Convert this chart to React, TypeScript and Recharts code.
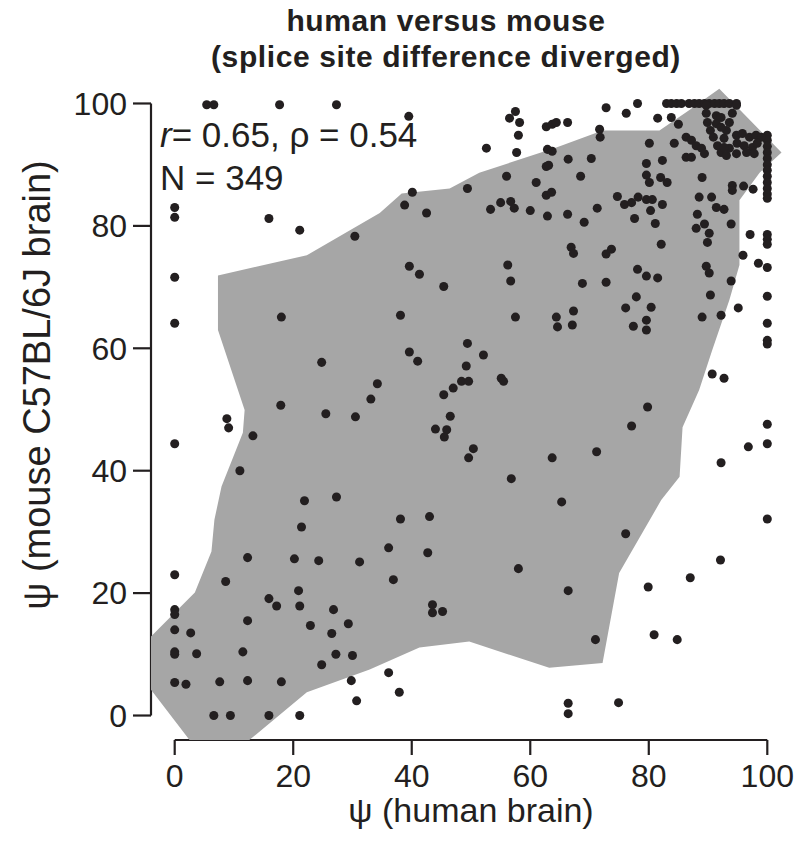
import React from "react";
import { ScatterChart, Scatter, XAxis, YAxis, ReferenceLine } from "recharts";

const FONT = '"Liberation Sans", Arial, Helvetica, sans-serif';
const INK = "#231f20";
const REGION = "#a6a6a6";

const axisTicks = [0, 20, 40, 60, 80, 100];
const titleLines = ["human versus mouse", "(splice site difference diverged)"];
const xLabel = "\u03c8 (human brain)";
const yLabel = "\u03c8 (mouse C57BL/6J brain)";

// outline of the shaded density region, [human psi, mouse psi]
const regionOutline = [
  [2.5, -4], [-4, 4.2], [-4, 12.9], [3.4, 20.1], [6.2, 26.8], [6.7, 32.0], [7.9, 37.4],
  [11.5, 46.2], [11.8, 49.9], [7.3, 63.0], [7.3, 71.9], [22.3, 75.2], [34.6, 82.1],
  [38.3, 85.3], [46.4, 86.1], [51.4, 88.7], [64.4, 92.8], [72.2, 95.6], [81.8, 95.6],
  [86.8, 98.9], [91.9, 102.4], [102.4, 92.0], [98.7, 88.7], [95.3, 84.2], [95.3, 73.6],
  [93.6, 67.9], [90.7, 59.7], [88.5, 53.2], [85.7, 47.1], [85.2, 39.0], [82.1, 35.2],
  [75.0, 23.3], [72.2, 8.6], [63.2, 7.8], [49.7, 12.1], [41.3, 11.1], [32.9, 7.5],
  [22.3, 3.8], [12.6, -4],
];

// exons, [human psi, mouse psi]
const lowHumanExons = [
  [5.4, 99.8], [6.6, 99.8], [17.7, 99.8], [27.3, 99.8], [0, 83.0], [0, 81.4], [15.9, 81.2],
  [21.1, 79.3], [30.4, 78.3], [0, 71.6], [18.0, 65.1], [0, 64.1], [24.8, 57.7], [34.2, 54.2],
  [33.1, 51.7], [17.9, 50.7], [25.5, 49.3], [30.5, 48.8], [8.8, 48.5], [9.1, 47.0],
  [13.2, 45.7], [0, 44.4], [11.0, 40.0], [21.9, 35.1], [27.3, 35.7], [21.4, 30.8],
  [12.3, 25.8], [20.2, 25.6], [24.3, 25.3], [31.2, 25.1], [0, 23.0], [8.6, 21.9],
  [20.9, 20.4], [15.9, 19.1], [17.2, 17.9], [21.1, 17.9], [26.8, 17.3], [0, 17.3],
  [0, 16.5], [12.3, 15.5], [0, 14.0], [2.7, 13.5], [22.9, 14.7], [29.3, 15.0], [26.5, 13.4],
  [0, 10.4], [0, 10.0], [3.7, 10.1], [11.5, 10.4], [27.2, 10.0], [30.0, 9.8], [24.8, 8.3],
  [0, 5.4], [1.9, 5.1], [7.6, 5.5], [12.3, 5.7], [18.0, 5.5], [29.8, 5.7], [30.7, 2.4],
  [6.6, 0], [9.4, 0], [15.9, 0], [21.1, 0],
];

const midHumanExons = [
  [39.5, 97.9], [57.5, 98.7], [56.5, 97.6], [58.2, 96.9], [58.0, 94.8], [57.7, 92.0],
  [52.6, 92.7], [62.7, 96.2], [63.7, 96.6], [64.4, 96.9], [66.3, 96.9], [72.8, 99.3],
  [71.7, 95.8], [71.8, 94.5], [62.9, 92.5], [63.7, 92.2], [66.4, 90.9], [70.3, 91.0],
  [62.7, 89.7], [63.1, 89.9], [68.5, 88.1], [56.0, 88.1], [61.0, 87.1], [49.4, 86.1],
  [40.1, 85.5], [38.8, 83.4], [42.5, 82.1], [62.7, 85.0], [63.6, 85.5], [55.0, 83.8],
  [56.7, 84.0], [57.3, 82.9], [53.3, 82.7], [60.0, 82.5], [62.9, 81.6], [66.3, 81.9],
  [71.3, 82.9], [69.1, 80.6], [66.9, 76.5], [67.3, 75.5], [72.8, 75.4], [73.7, 76.2],
  [39.6, 73.4], [41.3, 72.1], [56.2, 73.6], [56.7, 71.0], [45.4, 70.1], [68.8, 70.6],
  [72.8, 70.8], [38.1, 65.4], [57.5, 65.1], [64.4, 65.1], [67.3, 66.1], [64.6, 63.5],
  [67.1, 63.8], [49.4, 60.8], [39.6, 59.4], [41.0, 57.9], [52.1, 58.9], [49.2, 57.1],
  [48.4, 54.6], [49.6, 54.6], [47.0, 53.5], [45.4, 52.4], [55.1, 55.1], [55.5, 54.6],
  [46.5, 48.9], [44.0, 46.8], [45.9, 46.7], [45.5, 45.5], [50.4, 43.6], [49.6, 42.1],
  [56.8, 38.7], [63.7, 42.1], [71.2, 43.1], [38.1, 32.1], [43.0, 32.5], [65.3, 34.9],
  [36.1, 27.4], [42.7, 26.6], [58.0, 24.0], [36.9, 22.2], [66.4, 20.4], [43.5, 18.1],
  [43.5, 16.8], [45.2, 17.0], [71.0, 12.4], [36.1, 7.0], [37.9, 3.8], [66.4, 2.0], [66.4, 0.3],
];

const highHumanExons = [
  [78.1, 100], [83.0, 100], [83.8, 100], [84.7, 100], [85.5, 100], [86.8, 100], [87.7, 100],
  [88.5, 100], [89.4, 100], [90.2, 100], [91.1, 100], [91.9, 100], [92.7, 100], [93.6, 100],
  [94.8, 100], [76.2, 98.4], [81.5, 97.6], [83.8, 97.7], [85.0, 96.6], [80.1, 93.5],
  [84.3, 93.5], [86.3, 94.5], [87.2, 94.0], [88.0, 93.1], [88.9, 92.7], [89.4, 91.8],
  [86.3, 91.2], [87.2, 91.2], [79.6, 90.2], [82.3, 90.7], [79.6, 88.3], [80.1, 87.1],
  [82.0, 87.9], [83.1, 87.1], [89.0, 87.9], [94.1, 86.6], [94.1, 85.8], [96.0, 86.5],
  [97.6, 86.0], [74.7, 84.8], [75.9, 83.5], [77.1, 83.8], [78.2, 84.7], [79.6, 84.3],
  [80.6, 84.3], [80.3, 82.5], [82.3, 83.5], [77.6, 81.2], [81.1, 80.4], [88.5, 84.7],
  [90.6, 84.7], [91.4, 83.0], [92.7, 82.7], [88.2, 81.9], [89.4, 80.3], [88.0, 79.6],
  [90.2, 78.8], [89.9, 77.3], [93.9, 80.3], [97.1, 78.6], [82.1, 77.0], [95.9, 75.2],
  [98.5, 73.9], [78.1, 72.9], [79.6, 71.8], [81.5, 71.5], [89.7, 73.4], [90.2, 72.3],
  [93.9, 71.0], [77.9, 68.4], [90.4, 68.7], [76.1, 66.6], [80.4, 66.7], [95.1, 66.6],
  [89.0, 65.1], [92.2, 65.4], [79.6, 64.6], [79.6, 63.0], [77.4, 63.6], [90.7, 55.8],
  [92.7, 55.1], [79.8, 50.4], [77.1, 47.3], [96.8, 43.9], [92.2, 41.3], [76.1, 29.7],
  [92.1, 25.4], [87.0, 22.5], [79.9, 21.0], [80.9, 13.2], [84.8, 12.4], [74.9, 2.1],
];

const fullHumanExons = [
  [100, 94.8], [100, 94.0], [100, 93.0], [100, 92.0], [100, 91.0], [100, 90.0], [100, 89.1],
  [100, 88.1], [100, 87.1], [100, 86.1], [100, 85.2], [100, 84.5], [100, 78.6], [100, 77.8],
  [100, 77.0], [100, 73.2], [100, 68.5], [100, 64.1], [100, 61.3], [100, 60.7], [100, 47.6],
  [100, 44.4], [100, 32.1],
];

const topCornerExons = [
  [89.7, 99.7], [89.7, 98.4], [89.9, 96.9], [90.4, 95.6], [90.9, 94.5], [91.6, 93.1],
  [92.2, 92.0], [93.1, 91.5], [94.8, 99.7], [94.1, 98.4], [93.6, 96.9], [93.1, 95.6],
  [92.7, 94.3], [91.4, 98.0], [92.2, 97.7], [91.4, 96.7], [92.2, 96.1], [94.8, 94.8],
  [95.8, 95.1], [97.0, 94.5], [98.1, 94.8], [99.0, 94.5], [94.9, 93.5], [96.1, 93.1],
  [97.5, 92.8], [98.3, 93.5], [93.6, 92.7], [94.8, 91.8], [96.5, 92.0], [97.8, 91.8],
  [92.7, 92.8],
];

const toPoints = (pairs: number[][]) => pairs.map(([x, y]) => ({ x, y }));

const exonPoints = toPoints([
  ...lowHumanExons,
  ...midHumanExons,
  ...highHumanExons,
  ...fullHumanExons,
  ...topCornerExons,
]);

const regionShape = (props: any) => {
  const pts = props.points || [];
  const d = pts.map((p: any, i: number) => `${i ? "L" : "M"}${p.x},${p.y}`).join(" ") + " Z";
  return <path d={d} fill={REGION} stroke="none" />;
};

const tickStyle = { fontSize: 32, fill: INK, fontFamily: FONT };

export default function App() {
  return (
    <div style={{ position: "absolute", left: 0, top: 0, width: 805, height: 860, background: "#fff" }}>
      <ScatterChart width={805} height={860} margin={{ top: 79, right: 14, bottom: 0, left: 0 }}>
        <XAxis
          type="number"
          dataKey="x"
          domain={[-4, 104]}
          ticks={axisTicks}
          interval={0}
          axisLine={false}
          tickSize={15}
          tickMargin={9}
          tickLine={{ stroke: INK, strokeWidth: 2.2 }}
          tick={tickStyle}
          height={120}
        />
        <YAxis
          type="number"
          dataKey="y"
          domain={[-4, 104]}
          ticks={axisTicks}
          interval={0}
          axisLine={false}
          tickSize={18}
          tickMargin={6}
          tickLine={{ stroke: INK, strokeWidth: 2.2 }}
          tick={tickStyle}
          width={151}
        />
        <Scatter
          data={toPoints(regionOutline)}
          line={regionShape}
          shape={() => <g />}
          isAnimationActive={false}
        />
        <ReferenceLine
          segment={[{ x: 0, y: -4 }, { x: 100, y: -4 }]}
          stroke={INK}
          strokeWidth={2.2}
        />
        <ReferenceLine
          segment={[{ x: -4, y: 0 }, { x: -4, y: 100 }]}
          stroke={INK}
          strokeWidth={2.2}
        />
        <Scatter data={exonPoints} fill={INK} isAnimationActive={false} />
      </ScatterChart>
      <svg
        width={805}
        height={860}
        style={{ position: "absolute", left: 0, top: 0, pointerEvents: "none" }}
        fontFamily={FONT}
        fill={INK}
      >
        <text x={446} y={31} fontSize={30} fontWeight="bold" letterSpacing={0.6} textAnchor="middle">
          {titleLines[0]}
        </text>
        <text x={446} y={67} fontSize={30} fontWeight="bold" letterSpacing={0.6} textAnchor="middle">
          {titleLines[1]}
        </text>
        <text x={160} y={147} fontSize={35}>
          <tspan fontStyle="italic">r</tspan>= 0.65, {"\u03c1"} = 0.54
        </text>
        <text x={160} y={190} fontSize={35}>
          N = 349
        </text>
        <text x={471} y={822} fontSize={34} textAnchor="middle">
          {xLabel}
        </text>
        <text transform="translate(50,385) rotate(-90)" fontSize={38} textAnchor="middle">
          {yLabel}
        </text>
      </svg>
    </div>
  );
}
